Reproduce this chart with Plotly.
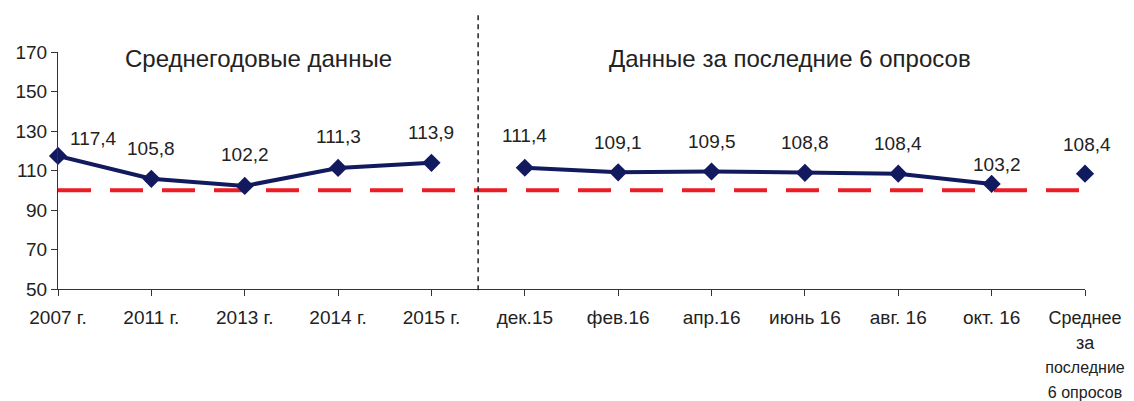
import plotly.graph_objects as go

categories = ["2007 г.", "2011 г.", "2013 г.", "2014 г.", "2015 г.",
              "дек.15", "фев.16", "апр.16", "июнь 16", "авг. 16", "окт. 16",
              "Среднее<br>за<br>последние<br>6 опросов"]
values = [117.4, 105.8, 102.2, 111.3, 113.9,
          111.4, 109.1, 109.5, 108.8, 108.4, 103.2,
          108.4]
value_labels = ["117,4", "105,8", "102,2", "111,3", "113,9",
                "111,4", "109,1", "109,5", "108,8", "108,4", "103,2",
                "108,4"]
section_titles = ["Среднегодовые данные", "Данные за последние 6 опросов"]
reference_level = 100
y_ticks = [50, 70, 90, 110, 130, 150, 170]

# label offsets in pixels (style)
label_dx = [35, 0, 0, 0, 0, 0, 0, 0, 0, 0, 5, 2]
label_dy = [17, 30, 31, 31, 30, 32, 30, 30, 30, 30, 19, 29]

NAVY = "#111a5e"
RED = "#ed1c24"
TXT = "#222222"
FONT = "Liberation Sans, Arial, sans-serif"

fig = go.Figure()

segments = [(0, 5), (5, 11), (11, 12)]
for a, b in segments:
    fig.add_trace(go.Scatter(
        x=categories[a:b], y=values[a:b],
        mode="lines+markers",
        line=dict(color=NAVY, width=4),
        marker=dict(symbol="diamond", size=14, color=NAVY),
        cliponaxis=False, showlegend=False, hoverinfo="skip",
    ))

# reference line
fig.add_shape(type="line", xref="x", yref="y",
              x0=0, x1=len(categories) - 1, y0=reference_level, y1=reference_level,
              line=dict(color=RED, width=4, dash="33px,19px"), layer="below")

# separator
fig.add_shape(type="line", xref="x", yref="paper",
              x0=4.5, x1=4.5, y0=-0.005, y1=1.165,
              line=dict(color=TXT, width=1.5, dash="5px,4px"))

for i, (c, v, t) in enumerate(zip(categories, values, value_labels)):
    fig.add_annotation(x=c, y=v, text=t, showarrow=False,
                       xshift=label_dx[i], yshift=label_dy[i],
                       font=dict(family=FONT, size=19, color=TXT))

fig.add_annotation(x=2.15, y=1.04, xref="x", yref="paper", text=section_titles[0],
                   showarrow=False, font=dict(family=FONT, size=24, color=TXT))
fig.add_annotation(x=7.84, y=1.04, xref="x", yref="paper", text=section_titles[1],
                   showarrow=False, font=dict(family=FONT, size=24, color=TXT))

# last label: same words, slightly smaller so it fits the right edge
last_lines = categories[-1].split("<br>")
last_text = "<br>".join(
    "<span style='font-size:%dpx'>%s</span>" % (16 if len(s) > 7 else 18, s)
    for s in last_lines)
tick_text = list(categories[:-1]) + [last_text]

fig.update_xaxes(
    type="category", range=[0, len(categories) - 1], automargin=False,
    tickvals=categories, ticktext=tick_text, ticklabelstandoff=5,
    showline=True, linecolor="#333333", linewidth=1,
    ticks="outside", ticklen=6, tickcolor="#333333",
    tickfont=dict(family=FONT, size=19, color=TXT),
    showgrid=False, zeroline=False, fixedrange=True,
)
fig.update_yaxes(
    range=[50, 170], tickvals=y_ticks, automargin=False,
    showline=True, linecolor="#333333", linewidth=1,
    ticks="outside", ticklen=6, tickcolor="#333333",
    tickfont=dict(family=FONT, size=19, color=TXT),
    showgrid=False, zeroline=False,
)

fig.update_layout(
    width=1126, height=393,
    margin=dict(l=50, r=49, t=44, b=112),
    plot_bgcolor="white", paper_bgcolor="white",
    font=dict(family=FONT),
)

fig.write_html("out.html")
